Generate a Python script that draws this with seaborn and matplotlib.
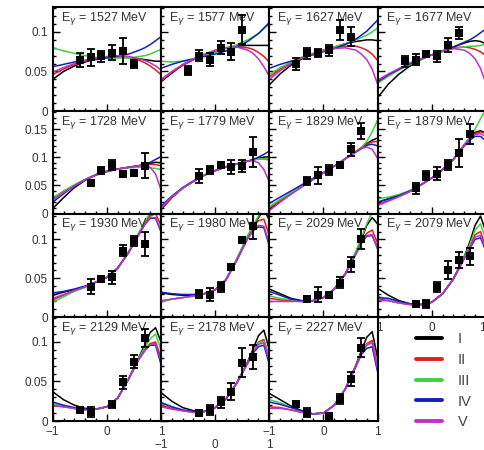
import numpy as np
import pandas as pd
import matplotlib
matplotlib.use("Agg")
import matplotlib.pyplot as plt
from matplotlib.ticker import MultipleLocator
from matplotlib.lines import Line2D
import seaborn as sns

sns.set_style("ticks")
plt.rcParams["font.family"] = ["Liberation Sans", "DejaVu Sans"]

# photon energies of the 15 panels (MeV)
ENERGIES = [1527, 1577, 1627, 1677, 1728, 1779, 1829, 1879,
            1930, 1980, 2029, 2079, 2129, 2178, 2227]

# cos(theta) grid on which the model curves are read
GRID_X = [-1, -0.8, -0.6, -0.4, -0.2, 0, 0.2, 0.4, 0.6, 0.7, 0.8, 0.9, 1.0]

MODEL_NAMES = ["I", "II", "III", "IV", "V"]
MODEL_COLORS = ["#000000", "#e02020", "#3fd03f", "#1020c0", "#c030c8"]

MODEL_I = [
    [0.040, 0.050, 0.057, 0.062, 0.066, 0.068, 0.069, 0.068, 0.066, 0.065, 0.064, 0.063, 0.063],
    [0.037, 0.048, 0.058, 0.065, 0.071, 0.076, 0.080, 0.082, 0.083, 0.083, 0.083, 0.083, 0.083],
    [0.033, 0.047, 0.058, 0.066, 0.072, 0.077, 0.081, 0.085, 0.088, 0.089, 0.090, 0.090, 0.089],
    [0.017, 0.034, 0.047, 0.057, 0.065, 0.071, 0.076, 0.081, 0.086, 0.088, 0.089, 0.088, 0.085],
    [0.009, 0.028, 0.046, 0.059, 0.069, 0.075, 0.079, 0.082, 0.085, 0.087, 0.089, 0.091, 0.090],
    [0.007, 0.028, 0.045, 0.057, 0.068, 0.076, 0.083, 0.088, 0.093, 0.095, 0.098, 0.100, 0.101],
    [0.008, 0.022, 0.035, 0.048, 0.060, 0.072, 0.084, 0.097, 0.110, 0.117, 0.124, 0.130, 0.134],
    [0.020, 0.026, 0.032, 0.040, 0.051, 0.063, 0.078, 0.096, 0.122, 0.134, 0.144, 0.147, 0.143],
    [0.028, 0.032, 0.035, 0.039, 0.045, 0.051, 0.063, 0.083, 0.109, 0.122, 0.133, 0.140, 0.130],
    [0.031, 0.029, 0.028, 0.028, 0.030, 0.035, 0.048, 0.074, 0.104, 0.116, 0.128, 0.138, 0.125],
    [0.036, 0.030, 0.024, 0.021, 0.021, 0.025, 0.036, 0.055, 0.083, 0.100, 0.118, 0.128, 0.120],
    [0.037, 0.028, 0.021, 0.017, 0.016, 0.019, 0.030, 0.049, 0.078, 0.096, 0.118, 0.130, 0.110],
    [0.037, 0.027, 0.020, 0.016, 0.015, 0.018, 0.029, 0.053, 0.082, 0.096, 0.112, 0.118, 0.100],
    [0.036, 0.025, 0.017, 0.013, 0.012, 0.017, 0.028, 0.048, 0.075, 0.091, 0.108, 0.115, 0.090],
    [0.035, 0.027, 0.019, 0.013, 0.009, 0.010, 0.020, 0.040, 0.071, 0.089, 0.106, 0.113, 0.080],
]
MODEL_II = [
    [0.046, 0.053, 0.059, 0.063, 0.066, 0.068, 0.069, 0.068, 0.064, 0.061, 0.057, 0.052, 0.046],
    [0.038, 0.049, 0.058, 0.065, 0.071, 0.076, 0.080, 0.081, 0.080, 0.078, 0.074, 0.069, 0.062],
    [0.043, 0.053, 0.061, 0.067, 0.072, 0.076, 0.080, 0.082, 0.082, 0.080, 0.077, 0.072, 0.064],
    [0.036, 0.045, 0.053, 0.060, 0.066, 0.071, 0.076, 0.080, 0.081, 0.080, 0.078, 0.075, 0.070],
    [0.027, 0.039, 0.050, 0.060, 0.068, 0.074, 0.079, 0.082, 0.085, 0.086, 0.087, 0.087, 0.085],
    [0.009, 0.029, 0.045, 0.057, 0.068, 0.076, 0.083, 0.088, 0.093, 0.095, 0.097, 0.097, 0.095],
    [0.010, 0.023, 0.036, 0.048, 0.060, 0.072, 0.084, 0.097, 0.110, 0.117, 0.123, 0.127, 0.128],
    [0.016, 0.023, 0.031, 0.039, 0.051, 0.063, 0.078, 0.096, 0.122, 0.134, 0.142, 0.145, 0.142],
    [0.022, 0.028, 0.034, 0.039, 0.045, 0.051, 0.063, 0.083, 0.108, 0.121, 0.130, 0.133, 0.118],
    [0.020, 0.023, 0.025, 0.027, 0.030, 0.035, 0.048, 0.074, 0.103, 0.115, 0.124, 0.126, 0.105],
    [0.024, 0.022, 0.021, 0.020, 0.021, 0.025, 0.036, 0.055, 0.082, 0.097, 0.108, 0.112, 0.095],
    [0.024, 0.021, 0.018, 0.016, 0.016, 0.019, 0.030, 0.049, 0.076, 0.090, 0.106, 0.110, 0.090],
    [0.020, 0.018, 0.016, 0.014, 0.015, 0.018, 0.029, 0.053, 0.080, 0.090, 0.098, 0.100, 0.080],
    [0.020, 0.016, 0.013, 0.011, 0.012, 0.017, 0.028, 0.048, 0.074, 0.088, 0.100, 0.103, 0.080],
    [0.018, 0.017, 0.014, 0.011, 0.009, 0.010, 0.020, 0.040, 0.070, 0.086, 0.098, 0.102, 0.070],
]
MODEL_III = [
    [0.080, 0.076, 0.073, 0.070, 0.068, 0.067, 0.067, 0.067, 0.069, 0.070, 0.072, 0.075, 0.078],
    [0.063, 0.062, 0.063, 0.066, 0.070, 0.074, 0.079, 0.084, 0.090, 0.094, 0.098, 0.104, 0.110],
    [0.046, 0.055, 0.062, 0.068, 0.073, 0.077, 0.081, 0.085, 0.090, 0.093, 0.096, 0.100, 0.105],
    [0.035, 0.044, 0.052, 0.059, 0.065, 0.071, 0.075, 0.079, 0.081, 0.082, 0.082, 0.083, 0.084],
    [0.028, 0.040, 0.051, 0.061, 0.069, 0.075, 0.079, 0.081, 0.082, 0.082, 0.081, 0.080, 0.078],
    [0.010, 0.030, 0.045, 0.057, 0.068, 0.076, 0.083, 0.088, 0.093, 0.095, 0.097, 0.097, 0.097],
    [0.012, 0.025, 0.037, 0.049, 0.061, 0.072, 0.084, 0.097, 0.110, 0.117, 0.128, 0.145, 0.166],
    [0.026, 0.029, 0.034, 0.041, 0.051, 0.063, 0.078, 0.096, 0.122, 0.135, 0.150, 0.168, 0.185],
    [0.019, 0.026, 0.033, 0.038, 0.045, 0.051, 0.063, 0.084, 0.110, 0.123, 0.134, 0.140, 0.135],
    [0.019, 0.023, 0.025, 0.027, 0.030, 0.035, 0.048, 0.075, 0.105, 0.118, 0.130, 0.140, 0.130],
    [0.027, 0.024, 0.022, 0.020, 0.021, 0.025, 0.036, 0.056, 0.085, 0.102, 0.120, 0.135, 0.135],
    [0.027, 0.022, 0.019, 0.016, 0.016, 0.019, 0.030, 0.049, 0.077, 0.093, 0.112, 0.120, 0.100],
    [0.022, 0.019, 0.016, 0.014, 0.015, 0.018, 0.029, 0.053, 0.081, 0.093, 0.104, 0.110, 0.090],
    [0.024, 0.018, 0.014, 0.011, 0.012, 0.017, 0.028, 0.048, 0.074, 0.088, 0.099, 0.101, 0.080],
    [0.027, 0.023, 0.017, 0.012, 0.009, 0.010, 0.020, 0.040, 0.070, 0.086, 0.097, 0.099, 0.068],
]
MODEL_IV = [
    [0.056, 0.059, 0.062, 0.064, 0.065, 0.067, 0.069, 0.072, 0.077, 0.080, 0.084, 0.089, 0.094],
    [0.054, 0.059, 0.063, 0.066, 0.069, 0.072, 0.076, 0.081, 0.088, 0.093, 0.098, 0.105, 0.112],
    [0.054, 0.059, 0.063, 0.067, 0.071, 0.075, 0.079, 0.084, 0.091, 0.096, 0.101, 0.108, 0.115],
    [0.037, 0.046, 0.053, 0.060, 0.066, 0.071, 0.076, 0.081, 0.087, 0.090, 0.094, 0.099, 0.104],
    [0.020, 0.035, 0.049, 0.060, 0.069, 0.075, 0.079, 0.082, 0.085, 0.087, 0.091, 0.096, 0.101],
    [0.013, 0.031, 0.046, 0.058, 0.068, 0.076, 0.083, 0.088, 0.093, 0.096, 0.100, 0.105, 0.111],
    [0.018, 0.029, 0.040, 0.051, 0.062, 0.073, 0.084, 0.097, 0.109, 0.115, 0.121, 0.123, 0.120],
    [0.020, 0.026, 0.032, 0.040, 0.051, 0.063, 0.078, 0.096, 0.120, 0.130, 0.137, 0.137, 0.129],
    [0.031, 0.033, 0.036, 0.040, 0.045, 0.051, 0.063, 0.083, 0.107, 0.119, 0.127, 0.127, 0.110],
    [0.032, 0.030, 0.029, 0.029, 0.030, 0.035, 0.048, 0.073, 0.101, 0.111, 0.116, 0.115, 0.092],
    [0.033, 0.028, 0.023, 0.021, 0.021, 0.025, 0.036, 0.055, 0.081, 0.095, 0.104, 0.105, 0.088],
    [0.025, 0.024, 0.020, 0.017, 0.016, 0.019, 0.030, 0.049, 0.075, 0.088, 0.100, 0.102, 0.085],
    [0.024, 0.020, 0.017, 0.015, 0.015, 0.018, 0.029, 0.053, 0.079, 0.089, 0.096, 0.096, 0.072],
    [0.023, 0.018, 0.014, 0.012, 0.012, 0.017, 0.028, 0.048, 0.073, 0.086, 0.094, 0.096, 0.072],
    [0.024, 0.021, 0.017, 0.013, 0.009, 0.010, 0.020, 0.040, 0.069, 0.084, 0.092, 0.094, 0.062],
]
MODEL_V = [
    [0.049, 0.055, 0.060, 0.064, 0.067, 0.069, 0.070, 0.069, 0.066, 0.064, 0.061, 0.057, 0.052],
    [0.040, 0.050, 0.059, 0.066, 0.072, 0.077, 0.080, 0.081, 0.077, 0.073, 0.066, 0.056, 0.044],
    [0.040, 0.051, 0.060, 0.067, 0.072, 0.076, 0.079, 0.080, 0.077, 0.072, 0.065, 0.053, 0.034],
    [0.039, 0.047, 0.054, 0.061, 0.066, 0.071, 0.076, 0.079, 0.077, 0.073, 0.066, 0.054, 0.035],
    [0.024, 0.037, 0.049, 0.060, 0.069, 0.075, 0.079, 0.082, 0.085, 0.085, 0.082, 0.070, 0.042],
    [0.010, 0.030, 0.045, 0.057, 0.068, 0.076, 0.083, 0.088, 0.093, 0.094, 0.090, 0.078, 0.056],
    [0.005, 0.020, 0.034, 0.047, 0.060, 0.072, 0.084, 0.097, 0.110, 0.116, 0.118, 0.114, 0.098],
    [0.014, 0.022, 0.030, 0.039, 0.051, 0.063, 0.078, 0.096, 0.121, 0.133, 0.140, 0.142, 0.136],
    [0.024, 0.029, 0.034, 0.039, 0.045, 0.051, 0.063, 0.083, 0.107, 0.119, 0.128, 0.128, 0.112],
    [0.021, 0.023, 0.025, 0.027, 0.030, 0.035, 0.048, 0.073, 0.101, 0.111, 0.118, 0.117, 0.095],
    [0.020, 0.020, 0.020, 0.020, 0.021, 0.025, 0.036, 0.055, 0.081, 0.095, 0.105, 0.106, 0.088],
    [0.021, 0.021, 0.018, 0.016, 0.016, 0.019, 0.030, 0.049, 0.075, 0.089, 0.103, 0.105, 0.087],
    [0.019, 0.018, 0.016, 0.014, 0.015, 0.018, 0.029, 0.053, 0.079, 0.089, 0.097, 0.098, 0.076],
    [0.018, 0.015, 0.013, 0.011, 0.012, 0.017, 0.028, 0.048, 0.073, 0.087, 0.097, 0.099, 0.076],
    [0.016, 0.016, 0.014, 0.011, 0.009, 0.010, 0.020, 0.040, 0.070, 0.085, 0.096, 0.099, 0.066],
]
MODELS = [MODEL_I, MODEL_II, MODEL_III, MODEL_IV, MODEL_V]

# measured points
X_A = [-0.5, -0.3, -0.1, 0.1, 0.3, 0.5]
X_B = [-0.3, -0.1, 0.1, 0.3, 0.5, 0.7]
X_C = [-0.5, -0.3, 0.1, 0.3, 0.5, 0.7]
POINT_X = [X_A, X_A, X_A, X_A, X_B, X_B, X_B, X_B,
           X_B, X_B, X_B, X_B, X_C, X_B, X_C]
POINT_Y = [
    [0.065, 0.068, 0.069, 0.074, 0.076, 0.060],
    [0.051, 0.070, 0.065, 0.080, 0.075, 0.103],
    [0.060, 0.073, 0.073, 0.077, 0.1025, 0.094],
    [0.063, 0.065, 0.072, 0.069, 0.0835, 0.099],
    [0.055, 0.076, 0.086, 0.071, 0.0725, 0.085],
    [0.067, 0.077, 0.087, 0.083, 0.084, 0.109],
    [0.058, 0.068, 0.077, 0.087, 0.114, 0.147],
    [0.045, 0.067, 0.071, 0.086, 0.108, 0.141],
    [0.039, 0.049, 0.051, 0.0855, 0.098, 0.094],
    [0.0295, 0.0286, 0.0385, 0.064, 0.099, 0.117],
    [0.023, 0.0286, 0.028, 0.0444, 0.068, 0.100],
    [0.0167, 0.0167, 0.039, 0.060, 0.0735, 0.078],
    [0.0143, 0.011, 0.021, 0.049, 0.075, 0.105],
    [0.0097, 0.0139, 0.0236, 0.037, 0.074, 0.081],
    [0.021, 0.0105, 0.0063, 0.028, 0.053, 0.093],
]
POINT_ERR = [
    [0.009, 0.011, 0.007, 0.009, 0.016, 0.005],
    [0.006, 0.007, 0.008, 0.008, 0.0105, 0.018],
    [0.0075, 0.007, 0.005, 0.007, 0.013, 0.012],
    [0.007, 0.007, 0.004, 0.0074, 0.0084, 0.0074],
    [0.004, 0.006, 0.0095, 0.005, 0.005, 0.0216],
    [0.0124, 0.0077, 0.004, 0.012, 0.0104, 0.027],
    [0.0074, 0.0148, 0.009, 0.005, 0.012, 0.014],
    [0.0095, 0.008, 0.0107, 0.0095, 0.0246, 0.018],
    [0.0096, 0.004, 0.008, 0.0075, 0.0068, 0.016],
    [0.0053, 0.0085, 0.0064, 0.003, 0.004, 0.016],
    [0.004, 0.0096, 0.003, 0.0075, 0.0096, 0.0128],
    [0.004, 0.005, 0.0064, 0.0117, 0.0107, 0.0107],
    [0.003, 0.0064, 0.004, 0.0085, 0.0085, 0.0117],
    [0.003, 0.0068, 0.007, 0.0105, 0.018, 0.0148],
    [0.003, 0.0057, 0.003, 0.006, 0.009, 0.0117],
]

# y axis range and tick labels of each row
ROW_YMAX = [0.1316, 0.182, 0.1333, 0.1316]
ROW_YTICKS = [[0, 0.05, 0.1], [0, 0.05, 0.1, 0.15], [0, 0.05, 0.1], [0, 0.05, 0.1]]
ROW_YLABELS = [["0", "0.05", "0.1"], ["0", "0.05", "0.1", "0.15"],
               ["0", "0.05", "0.1"], ["0", "0.05", "0.1"]]
X_TICKS = [-1, 0, 1]
X_LABELS = ["\u22121", "0", "1"]

W, H = 485, 450
COL_LEFT = [52.7, 161.0, 269.3, 377.6]
PANEL_W = 108.3
ROW_TOP = [7, 111, 213.5, 317]
ROW_BOT = [111, 213.5, 317, 421]
TXT = "#333333"

fig = plt.figure(figsize=(W / 100, H / 100), dpi=100)
palette = dict(zip(MODEL_NAMES, MODEL_COLORS))

for i, energy in enumerate(ENERGIES):
    r, c = divmod(i, 4)
    ax = fig.add_axes([COL_LEFT[c] / W, 1 - ROW_BOT[r] / H,
                       PANEL_W / W, (ROW_BOT[r] - ROW_TOP[r]) / H])
    df = pd.DataFrame({
        "x": GRID_X * len(MODELS),
        "y": np.concatenate([m[i] for m in MODELS]),
        "model": np.repeat(MODEL_NAMES, len(GRID_X)),
    })
    sns.lineplot(data=df, x="x", y="y", hue="model", palette=palette,
                 estimator=None, sort=False, legend=False, lw=1.1, ax=ax)
    ax.errorbar(POINT_X[i], POINT_Y[i], yerr=POINT_ERR[i], fmt="none",
                ecolor="black", elinewidth=1.3, capsize=2.6, capthick=1.3, zorder=4)
    sns.scatterplot(x=POINT_X[i], y=POINT_Y[i], marker="s", color="black",
                    s=26, linewidth=0, zorder=5, ax=ax)

    ax.set_xlim(-1, 1)
    ax.set_ylim(0, ROW_YMAX[r])
    ax.set_xlabel("")
    ax.set_ylabel("")
    ax.set_xticks(X_TICKS)
    ax.xaxis.set_minor_locator(MultipleLocator(0.2))
    ax.set_yticks(ROW_YTICKS[r])
    ax.yaxis.set_minor_locator(MultipleLocator(0.01))
    ax.tick_params(which="both", direction="in", top=False, right=False,
                   colors="black", labelcolor=TXT, labelsize=8.5, width=1)
    ax.tick_params(which="major", length=5)
    ax.tick_params(which="minor", length=2.5)
    if c == 0:
        ax.set_yticklabels(ROW_YLABELS[r])
    else:
        ax.tick_params(labelleft=False)
    if r == 3 or i == 11:
        labels = ax.set_xticklabels(X_LABELS)
        if i == 13:
            ax.tick_params(axis="x", pad=13)
        if i == 11:
            # keep the last label inside the figure
            labels[-1].set_horizontalalignment("right")
    else:
        ax.tick_params(labelbottom=False)
    for s in ax.spines.values():
        s.set_linewidth(1.5)
        s.set_color("black")
    ax.text(0.075, 0.975, f"E$_\\gamma$ = {energy} MeV", transform=ax.transAxes,
            ha="left", va="top", fontsize=9, color=TXT)

handles = [Line2D([], [], color=col, lw=2.8) for col in MODEL_COLORS]
leg = fig.legend(handles, MODEL_NAMES, loc="upper left",
                 bbox_to_anchor=(416 / W, 1 - 332 / H), frameon=False,
                 fontsize=10.5, handlelength=1.75, handletextpad=1.1,
                 labelspacing=0.47, borderpad=0, borderaxespad=0)
for t in leg.get_texts():
    t.set_color("#444444")

fig.savefig("out.png", dpi=100)
